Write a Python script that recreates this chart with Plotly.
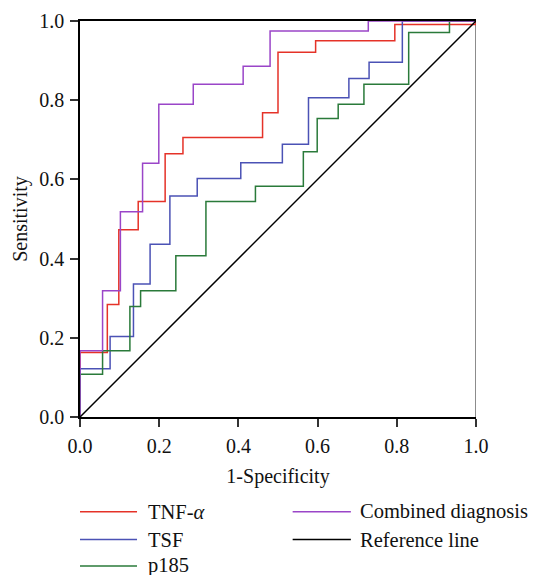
import plotly.graph_objects as go

# ROC step corners (1-Specificity, Sensitivity)
tnf_fpr = [0, 0, 0.069, 0.098, 0.147, 0.215, 0.260, 0.461, 0.500, 0.595, 0.795, 1.0]
tnf_tpr = [0, 0.163, 0.284, 0.473, 0.544, 0.665, 0.706, 0.768, 0.921, 0.950, 0.991, 1.0]

tsf_fpr = [0, 0, 0.076, 0.135, 0.177, 0.227, 0.296, 0.406, 0.511, 0.577, 0.679, 0.730, 0.814, 1.0]
tsf_tpr = [0, 0.122, 0.203, 0.336, 0.436, 0.558, 0.602, 0.642, 0.689, 0.806, 0.855, 0.896, 1.0, 1.0]

p185_fpr = [0, 0, 0.057, 0.126, 0.153, 0.242, 0.318, 0.443, 0.564, 0.599, 0.652, 0.717, 0.830, 0.933, 1.0]
p185_tpr = [0, 0.108, 0.167, 0.279, 0.319, 0.407, 0.544, 0.583, 0.670, 0.754, 0.790, 0.840, 0.971, 1.0, 1.0]

comb_fpr = [0, 0, 0.057, 0.102, 0.158, 0.199, 0.286, 0.412, 0.480, 0.728, 1.0]
comb_tpr = [0, 0.167, 0.319, 0.518, 0.641, 0.790, 0.840, 0.886, 0.975, 1.0, 1.0]

ref_x = [0, 1]
ref_y = [0, 1]

tick_vals = [0.0, 0.2, 0.4, 0.6, 0.8, 1.0]
tick_text = ["0.0", "0.2", "0.4", "0.6", "0.8", "1.0"]

series = [
    ("TNF-<i>α</i>", tnf_fpr, tnf_tpr, "#e53228", "hv"),
    ("TSF", tsf_fpr, tsf_tpr, "#4b52b5", "hv"),
    ("p185", p185_fpr, p185_tpr, "#2a7a3a", "hv"),
    ("Combined diagnosis", comb_fpr, comb_tpr, "#9a45c8", "hv"),
    ("Reference line", ref_x, ref_y, "#000000", "linear"),
]

FONT = "Liberation Serif"

fig = go.Figure()
for name, xs, ys, col, shape in series:
    fig.add_trace(go.Scatter(x=xs, y=ys, mode="lines", name=name,
                             line=dict(color=col, width=1.5, shape=shape),
                             showlegend=False, hoverinfo="skip"))

# manual legend (two columns)
legend_layout = [
    (0, 0), (0, 1), (0, 2),  # TNF, TSF, p185 in column 1
    (1, 0), (1, 1),          # Combined, Reference in column 2
]
row_y = [-0.2395, -0.3095, -0.376]
col_line = [(0.0, 0.144), (0.537, 0.684)]
col_text = [0.170, 0.705]
for (name, xs, ys, col, shape), (c, r) in zip(series, legend_layout):
    fig.add_shape(type="line", xref="paper", yref="paper",
                  x0=col_line[c][0], x1=col_line[c][1], y0=row_y[r], y1=row_y[r],
                  line=dict(color=col, width=1.5))
    fig.add_annotation(xref="paper", yref="paper", x=col_text[c], y=row_y[r],
                       text=name, showarrow=False, xanchor="left", yanchor="middle",
                       borderpad=0,
                       font=dict(family=FONT, size=20.5, color="#111"))

# right frame line (grey)
fig.add_shape(type="line", xref="x", yref="y", x0=1, x1=1, y0=0, y1=1,
              line=dict(color="#666666", width=1.5), layer="below")

# the page body has an 8px margin, so the figure is sized to the remaining window
fig.update_layout(
    width=529, height=567,
    margin=dict(l=72, r=61, t=13, b=158, autoexpand=False),
    paper_bgcolor="white", plot_bgcolor="white",
    font=dict(family=FONT, size=20, color="#111"),
    showlegend=False,
)
fig.update_xaxes(range=[0, 1], tickvals=tick_vals, ticktext=tick_text, automargin=False,
                 showgrid=False, zeroline=False, showline=True, linecolor="black",
                 linewidth=1.5, mirror=True, ticks="outside", ticklen=8, tickwidth=1.5,
                 tickcolor="#333", layer="below traces", ticklabelstandoff=2,
                 title=dict(text="1-Specificity", font=dict(family=FONT, size=20), standoff=13))
fig.update_yaxes(range=[0, 1], tickvals=tick_vals, ticktext=tick_text, automargin=False,
                 showgrid=False, zeroline=False, showline=True, linecolor="black",
                 linewidth=1.5, mirror=False, ticks="outside", ticklen=8, tickwidth=1.5,
                 tickcolor="#333", layer="below traces", ticklabelstandoff=2,
                 title=dict(text="Sensitivity", font=dict(family=FONT, size=20), standoff=6))

fig.write_html("out.html")
